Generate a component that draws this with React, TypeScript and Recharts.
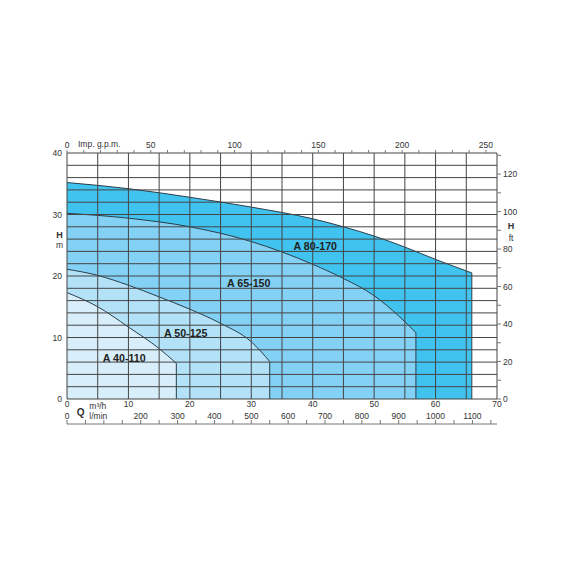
import { ComposedChart, Area, Line, XAxis, YAxis, ReferenceLine } from 'recharts';

// pump curves: flow Q in m3/h, head H in m
const A80_Q = [0, 10, 20, 30, 40, 45, 50, 55, 60, 65.9];
const A80_H = [35.2, 34.2, 32.8, 31.2, 29.3, 28.0, 26.5, 24.7, 22.7, 20.5];
const A65_Q = [0, 10, 20, 30, 40, 45, 50, 54, 56.8];
const A65_H = [30.2, 29.4, 28.0, 25.6, 21.9, 19.6, 16.8, 13.5, 10.8];
const A50_Q = [0, 5, 10, 15, 20, 25, 30, 33];
const A50_H = [21.1, 20.1, 18.5, 16.6, 14.6, 12.3, 9.3, 6.1];
const A40_Q = [0, 5, 10, 15, 17.8];
const A40_H = [17.3, 15.0, 11.7, 8.2, 5.8];

const NAMES = ['A 80-170', 'A 65-150', 'A 50-125', 'A 40-110'];

// axes
const M3H_TICKS = [0, 10, 20, 30, 40, 50, 60, 70];
const LMIN_TICKS = [0, 50, 100, 150, 200, 250, 300, 350, 400, 450, 500, 550, 600, 650, 700, 750, 800, 850, 900, 950, 1000, 1050, 1100, 1150];
const LMIN_LABELS = [0, 200, 300, 400, 500, 600, 700, 800, 900, 1000, 1100];
const GPM_TICKS = [0, 10, 20, 30, 40, 50, 60, 70, 80, 90, 100, 110, 120, 130, 140, 150, 160, 170, 180, 190, 200, 210, 220, 230, 240, 250];
const GPM_LABELS = [0, 50, 100, 150, 200, 250];
const M_TICKS = [0, 10, 20, 30, 40];
const FT_TICKS = [0, 10, 20, 30, 40, 50, 60, 70, 80, 90, 100, 110, 120, 130];
const FT_LABELS = [0, 20, 40, 60, 80, 100, 120];
const GRID_Q = [0, 5, 10, 15, 20, 25, 30, 35, 40, 45, 50, 55, 60, 65, 70];
const GRID_H = [0, 2, 4, 6, 8, 10, 12, 14, 16, 18, 20, 22, 24, 26, 28, 30, 32, 34, 36, 38, 40];

const Q_MAX = 70;
const H_MAX = 40;
const LMIN_PER_M3H = 1000 / 60;
const GPM_PER_M3H = 1000 / 60 / 4.54609;
const FT_PER_M = 3.28084;

const FILLS = ['#41c3f0', '#83d1f4', '#b3e2f8', '#d8effb'];
const CURVE = '#2c3e4a';
const GRID = '#454545';
const TXT = '#333333';
const FONT = '"Liberation Sans", Arial, sans-serif';
const FS = 8.5;

const toRows = (q: number[], h: number[]) => q.map((v, i) => ({ q: v, h: h[i] }));

const series = [
  { name: NAMES[0], data: toRows(A80_Q, A80_H), fill: FILLS[0] },
  { name: NAMES[1], data: toRows(A65_Q, A65_H), fill: FILLS[1] },
  { name: NAMES[2], data: toRows(A50_Q, A50_H), fill: FILLS[2] },
  { name: NAMES[3], data: toRows(A40_Q, A40_H), fill: FILLS[3] },
];

// the l/min and gpm scales share the m3/h axis range; ticks are converted
const lminTicks = LMIN_TICKS.map(v => v / LMIN_PER_M3H);
const gpmTicks = GPM_TICKS.map(v => v / GPM_PER_M3H);

const M3hTick = ({ x, y, payload }: any) => (
  <text x={x} y={y + 7} textAnchor="middle" fontSize={FS} fill={TXT} fontFamily={FONT}>{payload.value}</text>
);

const LminTick = ({ x, y, payload }: any) => {
  const v = Math.round(payload.value * LMIN_PER_M3H);
  return LMIN_LABELS.includes(v) ? (
    <text x={x} y={y - 1} textAnchor="middle" fontSize={FS} fill={TXT} fontFamily={FONT}>{v}</text>
  ) : <g />;
};

const GpmTick = ({ x, y, payload }: any) => {
  const v = Math.round(payload.value * GPM_PER_M3H);
  return GPM_LABELS.includes(v) ? (
    <text x={x} y={y - 1} textAnchor="middle" fontSize={FS} fill={TXT} fontFamily={FONT}>{v}</text>
  ) : <g />;
};

const MTick = ({ x, y, payload }: any) => (
  <text x={x} y={y + 3} textAnchor="end" fontSize={FS} fill={TXT} fontFamily={FONT}>{payload.value}</text>
);

const FtTick = ({ x, y, payload }: any) =>
  FT_LABELS.includes(payload.value) ? (
    <text x={x} y={y + 3} textAnchor="start" fontSize={FS} fill={TXT} fontFamily={FONT}>{payload.value}</text>
  ) : <g />;

export default function App() {
  return (
    <div style={{ position: 'absolute', left: 0, top: 0, width: 570, height: 570, background: '#fff', fontFamily: FONT }}>
      <ComposedChart width={570} height={570} margin={{ top: 133, right: 43, bottom: 134, left: 37 }}>
        <XAxis
          xAxisId="x1"
          dataKey="q"
          type="number"
          orientation="bottom"
          domain={[0, Q_MAX]}
          ticks={M3H_TICKS}
          allowDataOverflow
          height={25}
          axisLine={false}
          tickLine={false}
          tickSize={0}
          tickMargin={1}
          tick={M3hTick}
          interval={0}
        />
        <XAxis
          xAxisId="x2"
          dataKey="q"
          type="number"
          orientation="bottom"
          domain={[0, Q_MAX]}
          ticks={lminTicks}
          allowDataOverflow
          height={12}
          axisLine={{ stroke: '#777' }}
          tickLine={{ stroke: '#777' }}
          tickSize={-4}
          tickMargin={0}
          tick={LminTick}
          interval={0}
        />
        <XAxis
          xAxisId="x3"
          dataKey="q"
          type="number"
          orientation="top"
          domain={[0, Q_MAX]}
          ticks={gpmTicks}
          allowDataOverflow
          height={20}
          axisLine={false}
          tickLine={{ stroke: '#777' }}
          tickSize={3}
          tickMargin={1}
          tick={GpmTick}
          interval={0}
        />
        <YAxis
          yAxisId="m"
          type="number"
          orientation="left"
          domain={[0, H_MAX]}
          ticks={M_TICKS}
          allowDataOverflow
          width={30}
          axisLine={false}
          tickLine={false}
          tickSize={0}
          tickMargin={5}
          tick={MTick}
          interval={0}
        />
        <YAxis
          yAxisId="ft"
          type="number"
          orientation="right"
          domain={[0, H_MAX * FT_PER_M]}
          ticks={FT_TICKS}
          allowDataOverflow
          width={30}
          axisLine={false}
          tickLine={{ stroke: '#777' }}
          tickSize={4}
          tickMargin={2}
          tick={FtTick}
          interval={0}
        />

        {series.map(s => (
          <Area
            key={s.name}
            xAxisId="x1"
            yAxisId="m"
            data={s.data}
            dataKey="h"
            type="monotone"
            fill={s.fill}
            fillOpacity={1}
            stroke={CURVE}
            strokeWidth={1}
            dot={false}
            activeDot={false}
            isAnimationActive={false}
          />
        ))}

        {series.map(s => {
          const last = s.data[s.data.length - 1];
          return (
            <Line
              key={s.name + '-edge'}
              xAxisId="x1"
              yAxisId="m"
              data={[last, { q: last.q, h: 0 }]}
              dataKey="h"
              type="linear"
              stroke={CURVE}
              strokeWidth={1}
              dot={false}
              activeDot={false}
              isAnimationActive={false}
            />
          );
        })}

        {GRID_Q.map(v => (
          <ReferenceLine key={'gx' + v} xAxisId="x1" yAxisId="m" x={v} stroke={GRID} strokeWidth={1} />
        ))}
        {GRID_H.map(v => (
          <ReferenceLine key={'gy' + v} xAxisId="x1" yAxisId="m" y={v} stroke={GRID} strokeWidth={1} />
        ))}
      </ComposedChart>

      <svg width={570} height={570} style={{ position: 'absolute', left: 0, top: 0, pointerEvents: 'none' }} fontFamily={FONT}>
        <text x={78} y={147} fontSize={FS} fill={TXT}>Imp. g.p.m.</text>
        <text x={59.5} y={238} fontSize={9} fontWeight="bold" fill={TXT} textAnchor="middle">H</text>
        <text x={59.5} y={247.5} fontSize={FS} fill={TXT} textAnchor="middle">m</text>
        <text x={511} y={229} fontSize={9} fontWeight="bold" fill={TXT} textAnchor="middle">H</text>
        <text x={511} y={240.5} fontSize={FS} fill={TXT} textAnchor="middle">ft</text>
        <text x={80.7} y={415.7} fontSize={10} fontWeight="bold" fill={TXT} textAnchor="middle">Q</text>
        <text x={89.3} y={409} fontSize={FS} fill={TXT}>m³/h</text>
        <text x={89.3} y={418.5} fontSize={FS} fill={TXT}>l/min</text>
        <text x={315.3} y={250} fontSize={10.7} fontWeight="bold" fill="#222" textAnchor="middle">{NAMES[0]}</text>
        <text x={248.7} y={286.7} fontSize={10.7} fontWeight="bold" fill="#222" textAnchor="middle">{NAMES[1]}</text>
        <text x={185.7} y={337.3} fontSize={10.7} fontWeight="bold" fill="#222" textAnchor="middle">{NAMES[2]}</text>
        <text x={124.2} y={361.7} fontSize={10.7} fontWeight="bold" fill="#222" textAnchor="middle">{NAMES[3]}</text>
      </svg>
    </div>
  );
}
